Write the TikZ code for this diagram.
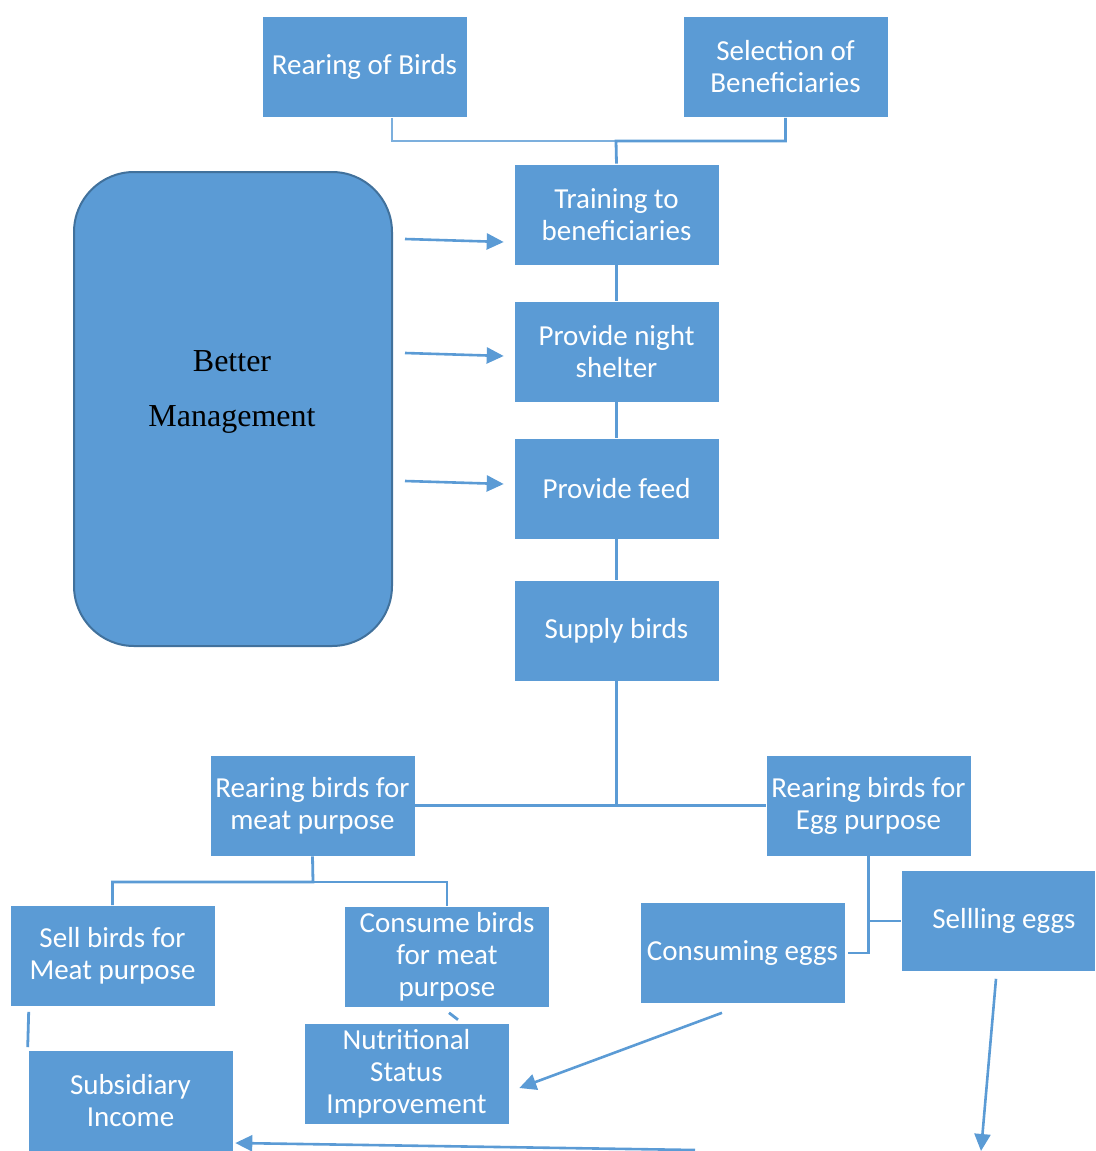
\documentclass[tikz,border=0pt]{standalone}
\usepackage{fontspec}
\newfontfamily\calfont{Carlito}
\newfontfamily\tmsfont{Liberation Serif}
\usetikzlibrary{arrows.meta}
\definecolor{boxblue}{HTML}{5B9BD5}
\definecolor{lineblue}{HTML}{5B9BD5}
\definecolor{darkline}{HTML}{41719C}
\tikzset{
  bx/.style={fill=boxblue, draw=white, line width=0.6, minimum width=205, minimum height=101, inner sep=0, text=white, align=center, font=\calfont\fontsize{29}{32}\selectfont},
  conn/.style={draw=lineblue, line width=2.8},
  thinconn/.style={draw=lineblue!80, line width=1.6},
  arr/.style={draw=lineblue, line width=2.6, -{Triangle[length=17,width=16]}},
}
\begin{document}
\begin{tikzpicture}[x=1pt,y=-1pt]
\useasboundingbox (0,0) rectangle (1095,1151);
% top
\node[bx] (rear) at (364.5,67) {Rearing of Birds};
\node[bx] (sel) at (785.5,67) {Selection of\\Beneficiaries};
\node[bx] (train) at (616.5,214.5) {Training to\\beneficiaries};
\node[bx] (night) at (616.5,351.5) {Provide night\\shelter};
\node[bx] (feed) at (616.5,488.5) {Provide feed};
\node[bx] (supply) at (616.5,630.5) {Supply birds};
% better management
\node[fill=boxblue, draw=darkline, line width=2, rounded corners=60, minimum width=318, minimum height=474, inner sep=0] (bm) at (233,409) {};
\node[font=\tmsfont\fontsize{32}{55}\selectfont, align=center, text=black] (bmt) at (232,392) {Better\\Management};
% middle
\node[bx] (meat) at (312.5,805.5) {Rearing birds for\\meat purpose};
\node[bx] (egg) at (868.5,805.5) {Rearing birds for\\Egg purpose};
% bottom
\node[bx] (sellm) at (112.5,956) {Sell birds for\\Meat purpose};
\node[bx] (consm) at (447,957) {Consume birds\\for meat\\purpose};
\node[bx] (nutr) at (406.5,1073.5) {Nutritional\\Status\\Improvement};
\node[bx] (sub) at (130.5,1101) {Subsidiary\\Income};
\node[bx] (ce) at (742.5,953) {Consuming eggs};
\node[bx, minimum width=194] (sell) at (998,921) {\hspace*{12pt}Sellling eggs};
% top connectors
\coordinate (jn) at (616,141);
\draw[thinconn] ([xshift=27.5]rear.south) |- (jn);
\draw[conn] (sel.south) |- (jn) -- (train.north);
\draw[conn] (train.south) -- (night.north);
\draw[conn] (night.south) -- (feed.north);
\draw[conn] (feed.south) -- (supply.north);
% arrows from better management
\draw[arr] ([shift={(12,68)}]bm.north east) -- ([shift={(-10,27.5)}]train.west);
\draw[arr] ([shift={(12,182)}]bm.north east) -- ([shift={(-10,4.5)}]night.west);
\draw[arr] ([shift={(12,310)}]bm.north east) -- ([shift={(-10,-4.5)}]feed.west);
% supply to rearing
\coordinate (sj) at (616.5,805);
\draw[conn] (supply.south) -- (sj);
\draw[conn] (meat.east) -- (egg.west);
% meat branch
\coordinate (mj) at (313,882);
\draw[conn] (meat.south) -- (mj) -| (sellm.north);
\draw[conn] (mj) -| (consm.north);
\draw[conn] ([shift={(2,5)}]consm.south) -- ([shift={(51.5,-3)}]nutr.north);
\draw[conn] ([shift={(19,5)}]sellm.south west) -- ([shift={(0,-3)}]sub.north west);
% egg branch
\draw[conn] (egg.south) |- ([xshift=3]ce.east);
\draw[conn] (egg.south |- sell.west) -- (sell.west);
% arrows at bottom
\draw[arr] ([shift={(-20.5,9)}]ce.south) -- ([shift={(10,14.5)}]nutr.east);
\draw[arr] ([shift={(-2,7)}]sell.south) -- (981,1151);
\coordinate (bstart) at (695,1150);
\draw[arr] (bstart) -- ([shift={(2,42)}]sub.east);
\end{tikzpicture}
\end{document}
